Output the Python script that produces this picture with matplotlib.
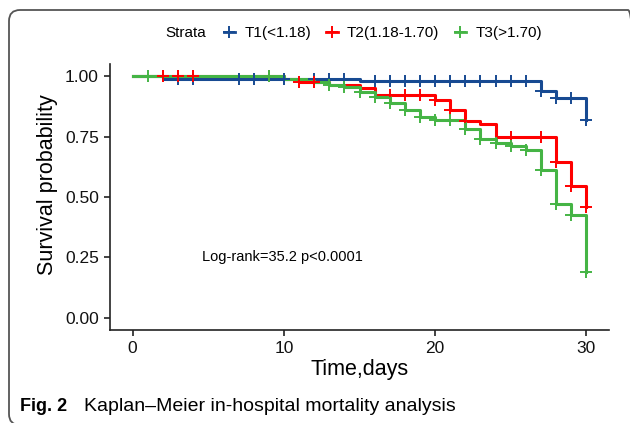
import numpy as np
import matplotlib
matplotlib.use('Agg')
import matplotlib.pyplot as plt
from matplotlib.patches import FancyBboxPatch
from matplotlib.lines import Line2D

plt.rcParams['font.family'] = ['Liberation Sans', 'DejaVu Sans']

# step curves (time, survival)
t1_times = [0, 2, 10, 15, 27, 28, 30]
t1_surv = [1.0, 0.99, 0.986, 0.98, 0.94, 0.91, 0.82]
t1_cens = [3, 4, 7, 8, 10, 12, 13, 14, 16, 17, 18, 19, 20, 21, 22, 23, 24, 25, 26, 27, 28, 29, 30]

t2_times = [0, 10, 11, 13, 15, 16, 20, 21, 22, 23, 24, 28, 29, 30]
t2_surv = [1.0, 0.988, 0.975, 0.962, 0.95, 0.92, 0.90, 0.86, 0.815, 0.80, 0.75, 0.645, 0.545, 0.46]
t2_cens = [2, 3, 4, 9, 11, 12, 17, 18, 19, 20, 21, 22, 25, 27, 28, 29, 30]

t3_times = [0, 10, 12, 13, 14, 15, 16, 17, 18, 19, 20, 22, 23, 24, 25, 26, 27, 28, 29, 30]
t3_surv = [1.0, 0.99, 0.975, 0.962, 0.955, 0.935, 0.915, 0.89, 0.86, 0.83, 0.82, 0.78, 0.74,
           0.725, 0.71, 0.695, 0.61, 0.47, 0.425, 0.19]
t3_cens = [1, 9, 13, 14, 15, 16, 17, 18, 19, 20, 21, 22, 23, 24, 25, 26, 27, 28, 29, 30]

labels = ['T1(<1.18)', 'T2(1.18-1.70)', 'T3(>1.70)']
colors = ['#174a92', '#ff0000', '#45b445']

curves = [(t1_times, t1_surv, t1_cens), (t2_times, t2_surv, t2_cens), (t3_times, t3_surv, t3_cens)]

fig = plt.figure(figsize=(6.3, 4.23), dpi=100)

# background axes in pixel units, only for the rounded frame
bg = fig.add_axes([0, 0, 1, 1], zorder=-1)
bg.set_xlim(0, 630)
bg.set_ylim(0, 423)
bg.axis('off')
bg.add_patch(FancyBboxPatch((9, -2), 630, 415, boxstyle='round,pad=0,rounding_size=11',
                            fill=False, ec='#555555', lw=1.3))

ax = fig.add_axes([0.1746, 0.2199, 0.7921, 0.6288])
ax.patch.set_alpha(0)

def surv_at(times, surv, t):
    i = np.searchsorted(times, t, side='right') - 1
    return np.array(surv)[i]

for (tt, ss, cc), col in zip(curves, colors):
    ax.step(tt, ss, where='post', color=col, lw=2.2, zorder=3)
    ax.plot(cc, surv_at(tt, ss, cc), ls='none', marker='+', ms=9, mew=1.4, color=col, zorder=4)

ax.set_xlim(-1.5, 31.5)
ax.set_ylim(-0.05, 1.05)
ax.set_xticks([0, 10, 20, 30])
ax.set_yticks([0, 0.25, 0.5, 0.75, 1.0])
ax.set_yticklabels(['0.00', '0.25', '0.50', '0.75', '1.00'])
for s in ['top', 'right']:
    ax.spines[s].set_visible(False)
for s in ['left', 'bottom']:
    ax.spines[s].set_linewidth(1.2)
    ax.spines[s].set_color('#222222')
ax.tick_params(labelsize=12.5, colors='#222222', labelcolor='#111111', length=4, width=1.2, pad=4)
ax.set_xlabel('Time,days', fontsize=15.5, labelpad=2)
ax.set_ylabel('Survival probability', fontsize=15.5)
ax.yaxis.set_label_coords(-0.104, 0.545)

ax.text(4.6, 0.25, 'Log-rank=35.2 p<0.0001', fontsize=10.5, va='center', ha='left')

# legend
fig.text(0.262, 0.922, 'Strata', fontsize=11, va='center', ha='left')
handles = [Line2D([], [], color=c, lw=2, marker='+', ms=9, mew=1.4) for c in colors]
fig.legend(handles, labels, ncol=3, loc='center left', bbox_to_anchor=(0.355, 0.922),
           frameon=False, fontsize=11, handlelength=0.75, handletextpad=0.6,
           columnspacing=1.0, borderaxespad=0, borderpad=0)

# caption
fig.text(0.032, 0.038, 'Fig. 2', fontsize=13, fontweight='bold', va='center', ha='left')
fig.text(0.133, 0.038, 'Kaplan\u2013Meier in-hospital mortality analysis', fontsize=14,
         va='center', ha='left')

fig.savefig('out.png', dpi=100)
